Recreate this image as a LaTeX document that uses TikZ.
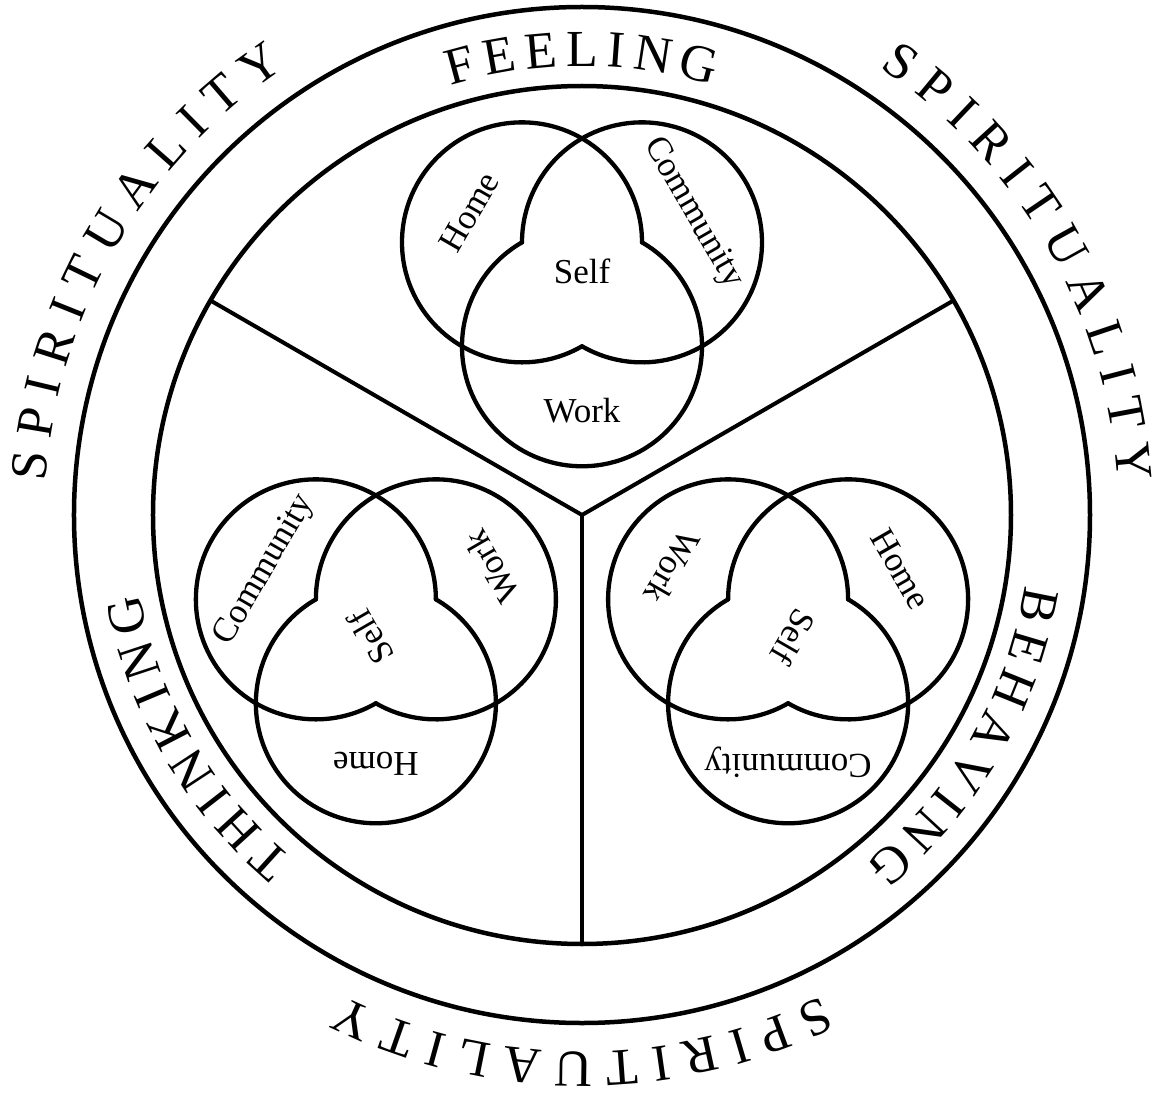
\documentclass[tikz,border=0pt]{standalone}
\usepackage{fontspec}
\setmainfont{Liberation Serif}
\tikzset{
  ringline/.style={line width=4.5pt},
  divline/.style={line width=4pt},
  vennline/.style={line width=4.3pt, line cap=round},
  capletter/.style={font=\fontsize{52}{52}\selectfont, inner sep=0pt, anchor=base},
  vlabel/.style={font=\fontsize{35}{35}\selectfont, inner sep=0pt},
}
% #1 name prefix, #2 position angle of the Venn centre, #3 label rotation
\newcommand\drawvenn[3]{%
  \begin{scope}[shift={(#2:238pt)}]
    \coordinate (#1c) at (0pt,0pt);
    \coordinate (#1A) at (150:69.28pt);
    \coordinate (#1B) at (30:69.28pt);
    \coordinate (#1W) at (270:69.28pt);
    \draw[vennline] (#1A) ++(0:120pt) arc[start angle=0, end angle=300, radius=120pt];
    \draw[vennline] (#1B) ++(240:120pt) arc[start angle=240, end angle=540, radius=120pt];
    \draw[vennline] (#1W) ++(120:120pt) arc[start angle=120, end angle=420, radius=120pt];
    \node[vlabel, rotate={#3+60}] (#1home) at ({150+#3}:130pt) {Home};
    \node[vlabel, rotate={#3-60}] (#1comm) at ({30+#3}:128pt) {Community};
    \node[vlabel, rotate={#3}] (#1work) at ({270+#3}:134pt) {Work};
    \node[vlabel, rotate={#3}] (#1self) at ({90+#3}:6pt) {Self};
  \end{scope}}
\begin{document}
\begin{tikzpicture}[x=1pt,y=1pt]
  \fill[white] (-582pt,-578pt) rectangle (575pt,515pt);
  \useasboundingbox (-582pt,-578pt) rectangle (575pt,515pt);
  \coordinate (O) at (0pt,0pt);
  % circles
  \draw[ringline] (O) circle[radius=508pt];
  \draw[ringline] (O) circle[radius=429pt];
  % dividers
  \coordinate (d1) at (150:429pt);
  \coordinate (d2) at (30:429pt);
  \coordinate (d3) at (270:429pt);
  \draw[divline] (O) -- (d1);
  \draw[divline] (O) -- (d2);
  \draw[divline] (O) -- (d3);
  % Venn diagrams
  \drawvenn{vt}{90}{0}
  \drawvenn{vl}{210}{120}
  \drawvenn{vr}{330}{-120}
  % ring words
  \foreach \ch/\a [count=\i] in {F/105.13,E/100.20,E/95.09,L/89.99,I/85.77,N/81.20,G/75.40}
    \node[capletter, rotate=\a-90] (feel\i) at (\a:449pt) {\ch};
  \foreach \ch/\a [count=\i] in {T/227.85,H/222.40,I/217.83,N/213.26,K/207.45,I/202.88,N/198.31,G/192.50}
    \node[capletter, rotate=\a-90] (think\i) at (\a:449pt) {\ch};
  \foreach \ch/\a [count=\i] in {B/348.74,E/343.46,H/338.00,A/332.20,V/326.39,I/321.82,N/317.25,G/311.44}
    \node[capletter, rotate=\a-90] (behave\i) at (\a:449pt) {\ch};
  % SPIRITUALITY outside
  \foreach \c in {30,150,270}{
    \foreach \ch/\o [count=\i] in {S/24.89,P/20.41,I/16.54,R/12.36,I/8.19,T/4.17,U/-0.90,A/-6.26,L/-11.33,I/-15.35,T/-19.38,Y/-24.44}{
      \pgfmathsetmacro\ang{\c+\o}
      \node[capletter, rotate=\ang-90] (sp\c-\i) at (\ang:537pt) {\ch};
    }
  }
\end{tikzpicture}
\end{document}
